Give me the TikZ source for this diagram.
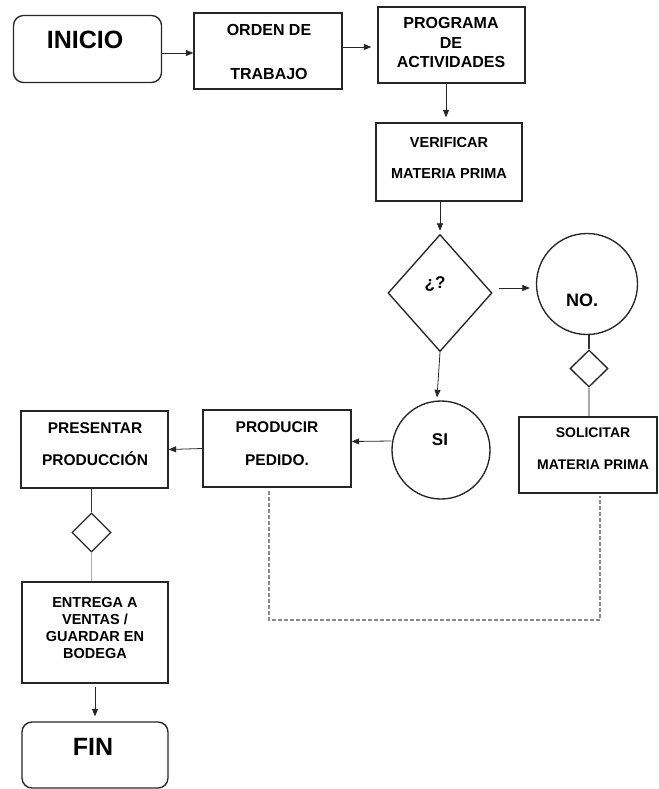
\documentclass[tikz,border=0pt]{standalone}
\usepackage{fontspec}
\setmainfont{Liberation Sans}
\usetikzlibrary{shapes.geometric,arrows.meta}
\newcommand\fs[2]{\fontsize{#1}{#2}\selectfont}
\definecolor{lightline}{HTML}{AAAAAA}
\definecolor{dashgray}{HTML}{8A8A8A}
\tikzset{
  boxline/.style={draw=black!85, line width=1.35pt, inner sep=0pt},
  procbox/.style={boxline, rectangle, minimum width=#1},
  termbox/.style={boxline, rectangle, rounded corners=10pt, minimum width=148pt, minimum height=67pt},
  decbox/.style={boxline, diamond},
  circbox/.style={boxline, circle},
  txt/.style={inner sep=0pt, align=center, text=black},
  arr/.style={-{Triangle[length=7.5pt,width=6pt]}, line width=0.8pt, draw=black!85},
  plainline/.style={line width=1.2pt, draw=black!80},
  greyline/.style={line width=1.2pt, draw=lightline},
  dashline/.style={line width=1.3pt, draw=dashgray, dash pattern=on 4pt off 2pt}
}
\begin{document}
\begin{tikzpicture}[x=1pt,y=-1pt]
\useasboundingbox (0,0) rectangle (658,789);

% boxes
\node[termbox] (inicio) at (87.5,49) {};
\node[procbox=148pt, minimum height=76pt] (orden) at (268,51) {};
\node[procbox=147pt, minimum height=76pt] (programa) at (451.5,45) {};
\node[procbox=146pt, minimum height=78pt] (verificar) at (449,162) {};
\node[decbox, minimum width=104pt, minimum height=117pt] (decision) at (440,293) {};
\node[circbox, minimum size=101pt] (no) at (587,284) {};
\node[decbox, minimum width=38pt, minimum height=37pt] (sdA) at (589,368.5) {};
\node[procbox=138pt, minimum height=76pt] (solicitar) at (588,455) {};
\node[circbox, minimum size=98pt] (si) at (441,450) {};
\node[procbox=148pt, minimum height=77pt] (producir) at (277,448.5) {};
\node[procbox=147pt, minimum height=77pt] (presentar) at (94.5,449.5) {};
\node[decbox, minimum width=39pt, minimum height=39pt] (sdB) at (91.5,532.5) {};
\node[procbox=146pt, minimum height=101pt] (entrega) at (95,632.5) {};
\node[termbox, minimum height=66pt, minimum width=146pt] (fin) at (95,755) {};

% texts
\node[txt, font=\bfseries\fs{25}{30}] (inicioT) at (85,40) {INICIO};
\node[txt, font=\bfseries\fs{16}{19}] (ordenT) at (269,52) {ORDEN DE\\[25pt]TRABAJO};
\node[txt, font=\bfseries\fs{16}{19.5}] (programaT) at (451,42.5) {PROGRAMA\\DE\\ACTIVIDADES};
\node[txt, font=\bfseries\fs{14.5}{19}] (verificarT) at (449,157.5) {VERIFICAR\\[12pt]MATERIA PRIMA};
\node[txt, font=\bfseries\fs{17}{20}] (decisionT) at (435,284) {¿?};
\node[txt, font=\bfseries\fs{18}{20}] (noT) at (582,300) {NO.};
\node[txt, font=\bfseries\fs{14}{19}] (solicitarT) at (593,449) {SOLICITAR\\[13pt]MATERIA PRIMA};
\node[txt, font=\bfseries\fs{17}{20}] (siT) at (440,440) {SI};
\node[txt, font=\bfseries\fs{15.5}{19}] (producirT) at (277,443.5) {PRODUCIR\\[14pt]PEDIDO.};
\node[txt, font=\bfseries\fs{15.5}{19}] (presentarT) at (95,444) {PRESENTAR\\[13pt]PRODUCCIÓN};
\node[txt, font=\bfseries\fs{14.5}{17}] (entregaT) at (95,627.5) {ENTREGA A\\VENTAS /\\GUARDAR EN\\BODEGA};
\node[txt, font=\bfseries\fs{25}{30}] (finT) at (93,747) {FIN};

% connectors
\draw[arr] ([yshift=-4pt]inicio.east) -- ([yshift=-2pt]orden.west);
\draw[arr, shorten >=6pt] ([yshift=4pt]orden.east) -- ([yshift=-2pt]programa.west);
\draw[arr, shorten >=5pt] ([xshift=-5.5pt]programa.south) -- ([xshift=-3pt]verificar.north);
\draw[arr, shorten >=3pt] ([xshift=-9pt]verificar.south) -- ([xshift=-9pt]verificar.south |- decision.north);
\draw[arr] ([xshift=6pt,yshift=5pt]decision.east) -- ([xshift=-6pt,yshift=-4pt]no.west);
\draw[plainline] (sdA.north |- no.south) -- (sdA.north);
\draw[greyline] (sdA.south) -- (sdA.south |- solicitar.north);
\draw[arr] (decision.south) -- ([xshift=-4pt,yshift=3pt]si.north);
\draw[arr] ([yshift=9pt]si.west) -- ([yshift=7pt]producir.east);
\draw[arr] (producir.west) -- (presentar.east);
\draw[plainline] (sdB.north |- presentar.south) -- (sdB.north);
\draw[greyline] (sdB.south) -- (sdB.south |- entrega.north);
\draw[arr, shorten <=3pt, shorten >=5pt] (entrega.south) -- (fin.north);
\coordinate (dashcorner) at (600,620);
\draw[dashline] ([xshift=-8pt,yshift=-3pt]producir.south) |- (dashcorner) -- ([xshift=12pt,yshift=-2pt]solicitar.south);
\end{tikzpicture}
\end{document}
